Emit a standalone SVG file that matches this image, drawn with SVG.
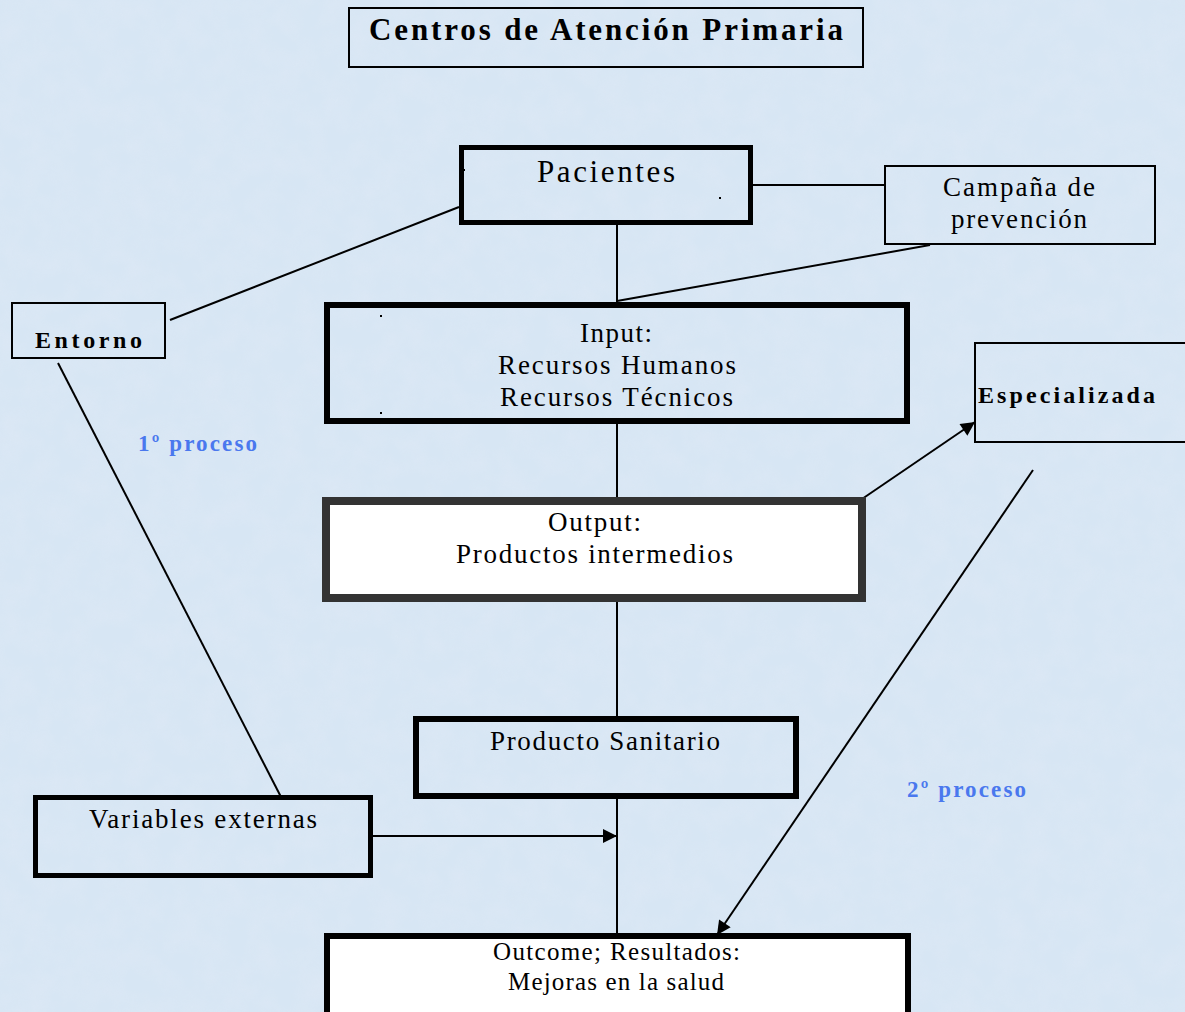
<svg xmlns="http://www.w3.org/2000/svg" width="1185" height="1012" viewBox="0 0 1185 1012">
<defs>
<style>
.t{font-family:"Liberation Serif","Times New Roman",Times,serif;fill:#000;text-anchor:middle}
.b{font-weight:bold}
.blue{font-family:"Liberation Serif","Times New Roman",Times,serif;font-weight:bold;fill:#4a78ee;font-size:23px}
.ln{stroke:#000;stroke-width:2;fill:none}
.box{fill:none;stroke:#000}
</style>
<marker id="ah" viewBox="0 0 10 10" refX="10" refY="5" markerWidth="7.5" markerHeight="7" orient="auto" markerUnits="strokeWidth">
<path d="M0,0 L10,5 L0,10 z" fill="#000"/>
</marker>
<filter id="tex" x="0" y="0" width="100%" height="100%">
<feTurbulence type="fractalNoise" baseFrequency="0.04" numOctaves="3" seed="3" result="n"/>
<feColorMatrix in="n" type="matrix" values="0 0 0 0 0.75  0 0 0 0 0.82  0 0 0 0 0.92  0 0 0 1.2 -0.35"/>
</filter>
</defs>
<rect x="0" y="0" width="1185" height="1012" fill="#d7e6f4"/>
<rect x="0" y="0" width="1185" height="1012" filter="url(#tex)" opacity="0.6"/>

<g id="connectors">
<line class="ln" x1="753" y1="185" x2="885" y2="185"/>
<line class="ln" x1="459" y1="207" x2="170" y2="320"/>
<line class="ln" x1="617" y1="225" x2="617" y2="302"/>
<line class="ln" x1="930" y1="245" x2="617" y2="301"/>
<line class="ln" x1="58" y1="363" x2="281" y2="797"/>
<line class="ln" x1="617" y1="424" x2="617" y2="497"/>
<line class="ln" x1="862" y1="499" x2="975" y2="422" marker-end="url(#ah)"/>
<line class="ln" x1="617" y1="602" x2="617" y2="716"/>
<line class="ln" x1="1033" y1="470" x2="717" y2="935" marker-end="url(#ah)"/>
<line class="ln" x1="617" y1="799" x2="617" y2="933"/>
<line class="ln" x1="373" y1="836" x2="617" y2="836" marker-end="url(#ah)"/>
</g>

<g id="title">
<rect class="box" x="349" y="8" width="514" height="59" stroke-width="2"/>
<text class="t b" x="606" y="40" font-size="31" textLength="474" lengthAdjust="spacing">Centros de Atención Primaria</text>
</g>

<g id="pacientes">
<rect class="box" x="461.5" y="147.5" width="289" height="75" stroke-width="5"/>
<text class="t" x="606" y="182" font-size="31" textLength="138" lengthAdjust="spacing">Pacientes</text>
<rect x="462" y="169" width="3" height="2" fill="#000"/>
<rect x="719" y="197" width="2" height="2" fill="#000"/>
</g>

<g id="campana">
<rect class="box" x="885" y="166" width="270" height="78" stroke-width="2"/>
<text class="t" x="1019" y="196" font-size="27" textLength="152" lengthAdjust="spacing">Campaña de</text>
<text class="t" x="1019" y="228" font-size="27" textLength="136" lengthAdjust="spacing">prevención</text>
</g>

<g id="entorno">
<rect class="box" x="12" y="303" width="153" height="55" stroke-width="2"/>
<text class="t b" x="88.5" y="348" font-size="24" textLength="107" lengthAdjust="spacing">Entorno</text>
</g>

<g id="label-1">
<text class="blue" x="138" y="451" textLength="119" lengthAdjust="spacing">1º proceso</text>
</g>

<g id="input">
<rect class="box" x="327" y="305" width="580" height="116" stroke-width="6"/>
<text class="t" x="616" y="342" font-size="27" textLength="72" lengthAdjust="spacing">Input:</text>
<text class="t" x="617" y="374" font-size="27" textLength="238" lengthAdjust="spacing">Recursos Humanos</text>
<text class="t" x="616.5" y="406" font-size="27" textLength="233" lengthAdjust="spacing">Recursos Técnicos</text>
<rect x="380" y="315" width="2" height="2" fill="#000"/>
<rect x="380" y="412" width="2" height="2" fill="#000"/>
</g>

<g id="especializada">
<rect class="box" x="975" y="343" width="215" height="99" stroke-width="2"/>
<text class="t b" x="1066.5" y="403" font-size="24" textLength="177" lengthAdjust="spacing">Especializada</text>
</g>

<g id="output">
<rect x="326" y="501" width="536" height="97" fill="#fff" stroke="#333" stroke-width="8"/>
<text class="t" x="594.5" y="531" font-size="27" textLength="93" lengthAdjust="spacing">Output:</text>
<text class="t" x="594.5" y="563" font-size="27" textLength="277" lengthAdjust="spacing">Productos intermedios</text>
</g>

<g id="producto">
<rect class="box" x="416" y="719" width="380" height="77" stroke-width="6"/>
<text class="t" x="605" y="750" font-size="27" textLength="230" lengthAdjust="spacing">Producto Sanitario</text>
</g>

<g id="label-2">
<text class="blue" x="907" y="797" textLength="119" lengthAdjust="spacing">2º proceso</text>
</g>

<g id="variables">
<rect class="box" x="35.5" y="797.5" width="335" height="78" stroke-width="5"/>
<text class="t" x="203" y="828" font-size="27" textLength="228" lengthAdjust="spacing">Variables externas</text>
</g>

<g id="outcome">
<rect x="327" y="936" width="581" height="90" fill="#fff" stroke="#000" stroke-width="6"/>
<text class="t" x="616.5" y="960" font-size="25" textLength="247" lengthAdjust="spacing">Outcome; Resultados:</text>
<text class="t" x="616" y="990" font-size="25" textLength="216" lengthAdjust="spacing">Mejoras en la salud</text>
</g>
</svg>
